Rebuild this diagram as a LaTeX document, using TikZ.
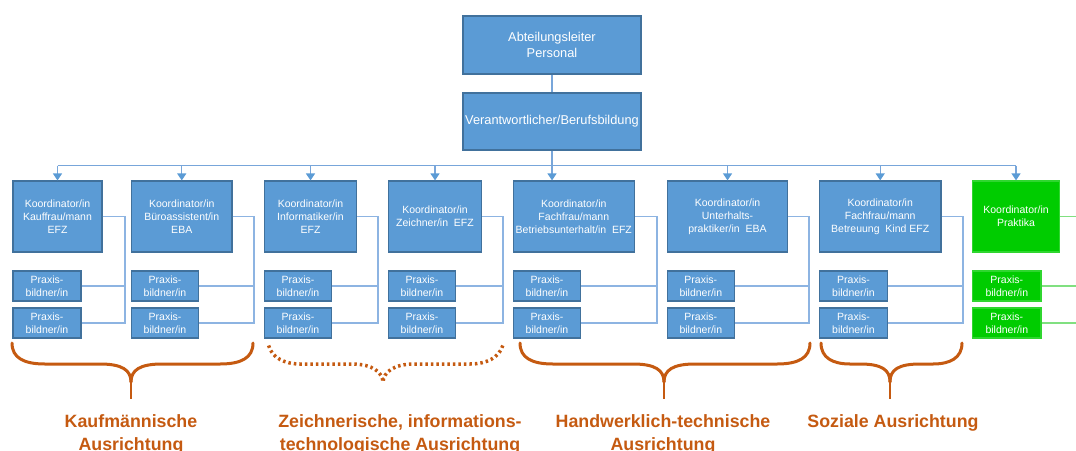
\documentclass[tikz,border=0pt]{standalone}
\usepackage{fontspec}
\setmainfont{Liberation Sans}
\usetikzlibrary{arrows.meta}
\definecolor{boxblue}{HTML}{5B9BD5}
\definecolor{boxedge}{HTML}{41719C}
\definecolor{linkblue}{HTML}{8DB4E2}
\definecolor{busblue}{HTML}{78A6DA}
\definecolor{boxgreen}{HTML}{00CC00}
\definecolor{greenedge}{HTML}{2FD62F}
\definecolor{linkgreen}{HTML}{80E080}
\definecolor{braceorange}{HTML}{C55A11}
\begin{document}
\begin{tikzpicture}[x=1pt,y=-1pt,
  base/.style={rectangle, draw=boxedge, fill=boxblue, line width=1.2pt, text=white, align=center, inner sep=0pt},
  headbox/.style={base, minimum width=178pt, font=\fontsize{12.8}{16}\selectfont},
  koord/.style={base, minimum height=71pt, font=\fontsize{10.5}{13}\selectfont},
  praxis/.style={base, minimum height=30pt, font=\fontsize{10.5}{13}\selectfont},
  gbox/.style={fill=boxgreen, draw=greenedge},
  mainline/.style={draw=busblue, line width=1.2pt},
  arr/.style={draw=busblue, line width=1.2pt, -{Triangle[width=9pt,length=7pt,color=boxblue]}},
  sub/.style={draw=linkblue, line width=1.2pt},
  gline/.style={draw=linkgreen, line width=1.2pt},
  brace/.style={draw=braceorange, line width=3pt, line cap=round},
  dotbrace/.style={draw=braceorange, line width=3.5pt, dash pattern=on 2.5pt off 3pt},
  lbl/.style={text=braceorange, align=center, font=\bfseries\fontsize{17.8}{23}\selectfont}
]
\useasboundingbox (0,0) rectangle (1076,450);

% top boxes
\node[headbox, minimum height=58pt] (a) at (552,45) {Abteilungsleiter\\Personal};
\node[headbox, minimum height=57pt] (v) at (552,121.5) {Verantwortlicher/Berufsbildung};

% coordinators
\node[koord, minimum width=89pt] (k1) at (57.5,216.5) {Koordinator/in\\Kauffrau/mann\\EFZ};
\node[koord, minimum width=100.5pt] (k2) at (181.75,216.5) {Koordinator/in\\B\"uroassistent/in\\EBA};
\node[koord, minimum width=92.4pt] (k3) at (310.5,216.5) {Koordinator/in\\Informatiker/in\\EFZ};
\node[koord, minimum width=93.4pt] (k4) at (435,216.5) {Koordinator/in\\Zeichner/in\ \ EFZ};
\node[koord, minimum width=121pt] (k5) at (573.8,216.5) {Koordinator/in\\Fachfrau/mann\\Betriebsunterhalt/in\ \ EFZ};
\node[koord, minimum width=120.4pt] (k6) at (727.5,216.5) {Koordinator/in\\Unterhalts-\\praktiker/in\ \ EBA};
\node[koord, minimum width=121.7pt] (k7) at (880.2,216.5) {Koordinator/in\\Fachfrau/mann\\Betreuung\ \ Kind\ EFZ};
\node[koord, gbox, minimum width=86.6pt] (k8) at (1016,216.5) {Koordinator/in\\Praktika};

% Praxisbildner
\foreach \i/\cx/\w in {1/47/68,2/165/67,3/298/67.7,4/422/67.7,5/547/67.7,6/700.8/67,7/853.5/68.4}{
  \node[praxis, minimum width=\w pt] (pa\i) at (\cx,286) {Praxis-\\bildner/in};
  \node[praxis, minimum width=\w pt] (pb\i) at (\cx,323) {Praxis-\\bildner/in};
}
\node[praxis, gbox, minimum width=68.3pt] (pa8) at (1006.8,286) {Praxis-\\bildner/in};
\node[praxis, gbox, minimum width=68.3pt] (pb8) at (1006.8,323) {Praxis-\\bildner/in};

% main connectors
\coordinate (bus) at (552,165.5);
\draw[mainline] (a) -- (v);
\draw[mainline] (v.south) -- (bus);
\draw[mainline] (k1.north |- bus) -- (k8.north |- bus);
\foreach \i in {1,2,3,4,6,7,8}{
  \draw[arr] (k\i.north |- bus) -- (k\i.north);
}
\draw[arr] (bus) -- (bus |- k5.north);

% sub connectors
\foreach \i/\cx in {1/125,2/254,3/378,4/503,5/657,6/809,7/963}{
  \coordinate (c\i) at (\cx,216.5);
  \draw[sub] (k\i.east) -- (c\i) |- (pb\i.east);
  \draw[sub] (pa\i.east) -- (pa\i.east -| c\i);
}
\coordinate (edge) at (1076,0);
\draw[gline] (k8.east) -- (k8.east -| edge);
\draw[gline] (pa8.east) -- (pa8.east -| edge);
\draw[gline] (pb8.east) -- (pb8.east -| edge);

% braces
\draw[brace] (12,343) .. controls (12,358) and (24,364) .. (45,364) -- (100,364) .. controls (122,364) and (131,370) .. (131,382);
\draw[brace] (253,343) .. controls (253,358) and (241,364) .. (220,364) -- (162,364) .. controls (140,364) and (131,370) .. (131,382);
\draw[braceorange, line width=2pt] (131,378) -- (131,399);

\draw[dotbrace] (268.6,345.5) .. controls (272,358) and (285,364) .. (300,364) -- (352,364) .. controls (372,364) and (383,372) .. (383,383);
\draw[dotbrace] (502.8,345.5) .. controls (499,358) and (486,364) .. (470,364) -- (414,364) .. controls (394,364) and (383,372) .. (383,383);

\draw[brace] (520,343) .. controls (520,358) and (532,364) .. (553,364) -- (633,364) .. controls (655,364) and (664,370) .. (664,382);
\draw[brace] (810,343) .. controls (810,358) and (798,364) .. (777,364) -- (695,364) .. controls (673,364) and (664,370) .. (664,382);
\draw[braceorange, line width=2pt] (664,378) -- (664,399);

\draw[brace] (821,343) .. controls (821,358) and (833,364) .. (850,364) -- (860,364) .. controls (882,364) and (890,370) .. (890,382);
\draw[brace] (962,343) .. controls (962,358) and (950,364) .. (933,364) -- (920,364) .. controls (898,364) and (890,370) .. (890,382);
\draw[braceorange, line width=2pt] (890,378) -- (890,399);

% labels
\node[lbl] (l1) at (131,434.5) {Kaufm\"annische\\Ausrichtung};
\node[lbl] (l2) at (400,434.5) {Zeichnerische, informations-\\technologische Ausrichtung};
\node[lbl] (l3) at (663,434.5) {Handwerklich-technische\\Ausrichtung};
\node[lbl] (l4) at (893,423) {Soziale Ausrichtung};
\end{tikzpicture}
\end{document}
